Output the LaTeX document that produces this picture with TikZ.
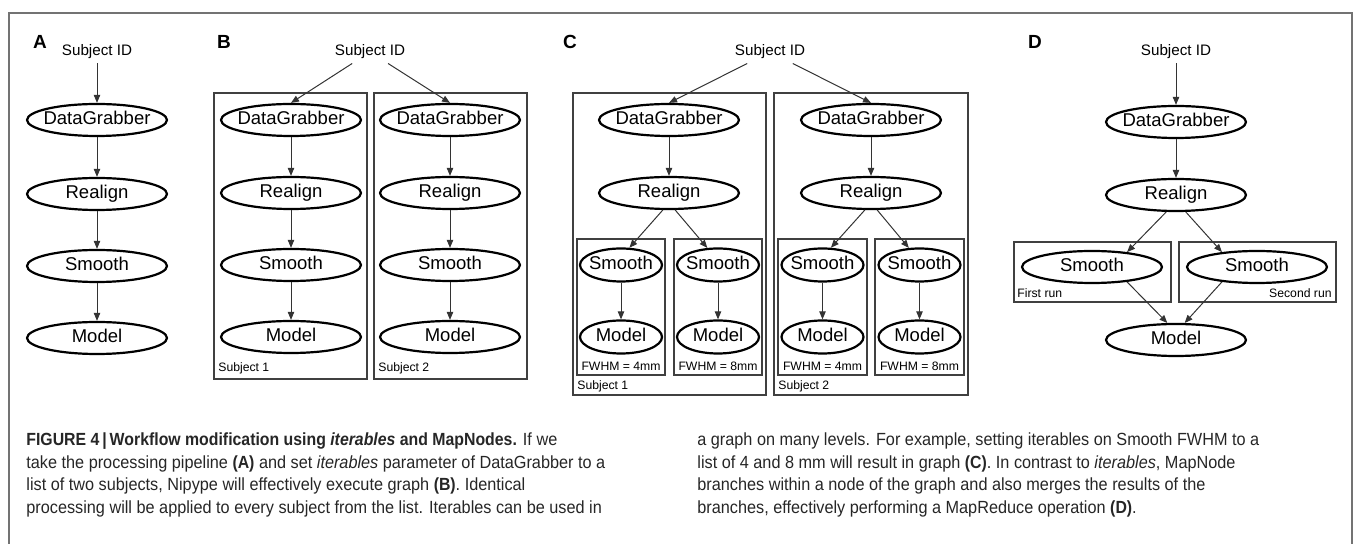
\documentclass[tikz,border=0pt]{standalone}
\usepackage{fontspec}
\setmainfont{Liberation Sans}
\newfontfamily\capfont[FakeStretch=0.924]{Liberation Sans}
\newfontfamily\capbf[FakeStretch=0.9,UprightFont={* Bold},ItalicFont={* Bold Italic}]{Liberation Sans}
\usetikzlibrary{shapes.geometric,arrows.meta}
\newcommand{\zw}[1]{\makebox[0pt]{#1}}
\newcommand{\cb}[1]{{\capbf #1}}
\begin{document}
\begin{tikzpicture}[x=0.5pt,y=-0.5pt,
  proc/.style={ellipse,draw=black,line width=1.1pt,minimum width=70pt,minimum height=16pt,
    inner sep=0pt,text height=6.8pt,text depth=2pt,font=\fontsize{9.25}{10}\selectfont},
  sproc/.style={proc,minimum width=41pt,minimum height=16.5pt},
  sid/.style={inner sep=2pt,font=\fontsize{7.6}{9}\selectfont},
  plabel/.style={inner sep=0pt,font=\fontsize{9.5}{10}\selectfont\bfseries},
  smalltext/.style={inner sep=0pt,font=\fontsize{6.1}{7}\selectfont},
  conn/.style={draw=black!80,line width=0.5pt,-{Triangle[length=4pt,width=3.2pt]}},
  grp/.style={draw=black!75,line width=0.6pt},
  captext/.style={inner sep=0pt,anchor=base west,text=black!85,font=\capfont\fontsize{8.8}{11}\selectfont}]
\useasboundingbox (0,0) rectangle (1355,544);
% outer frame
\draw[draw=black!55,line width=1pt] (9,544) -- (9,13) -- (1352,13) -- (1352,544);

% ---------------- Panel A
\node[plabel] (lA) at (40,42) {A};
\node[sid] (sidA) at (97,52) {Subject ID};
\node[proc] (dgA) at (97,120) {\zw{DataGrabber}};
\node[proc] (reA) at (97,194) {\zw{Realign}};
\node[proc] (smA) at (97,266) {\zw{Smooth}};
\node[proc] (moA) at (97,338) {\zw{Model}};
\draw[conn] (sidA) -- (dgA);
\draw[conn] (dgA) -- (reA);
\draw[conn] (reA) -- (smA);
\draw[conn] (smA) -- (moA);

% ---------------- Panel B
\node[plabel] (lB) at (224,42) {B};
\node[sid] (sidB) at (370,52) {Subject ID};
\draw[grp] (214,93) rectangle (367,379);
\draw[grp] (374,93) rectangle (527,379);
\node[smalltext,anchor=west] (sB1) at (218,368) {Subject 1};
\node[smalltext,anchor=west] (sB2) at (378,368) {Subject 2};
\foreach \i/\x in {1/291,2/450}{
  \node[proc] (dgB\i) at (\x,120) {\zw{DataGrabber}};
  \node[proc] (reB\i) at (\x,193) {\zw{Realign}};
  \node[proc] (smB\i) at (\x,265) {\zw{Smooth}};
  \node[proc] (moB\i) at (\x,337) {\zw{Model}};
  \draw[conn] (dgB\i) -- (reB\i);
  \draw[conn] (reB\i) -- (smB\i);
  \draw[conn] (smB\i) -- (moB\i);
}
\draw[conn] (sidB) -- (dgB1.north);
\draw[conn] (sidB) -- (dgB2.north);

% ---------------- Panel C
\node[plabel] (lC) at (570,42) {C};
\node[sid] (sidC) at (770,52) {Subject ID};
\draw[grp] (573,93) rectangle (766,395);
\draw[grp] (774,93) rectangle (968,395);
\node[smalltext,anchor=west] (sC1) at (577,386) {Subject 1};
\node[smalltext,anchor=west] (sC2) at (778,386) {Subject 2};
\draw[grp] (577,239) rectangle (665,375);
\draw[grp] (674,239) rectangle (762,375);
\draw[grp] (778,239) rectangle (867,375);
\draw[grp] (875,239) rectangle (964,375);
\foreach \i/\x/\xa/\xb in {1/669/621/718,2/871/822.5/919.5}{
  \node[proc] (dgC\i) at (\x,120) {\zw{DataGrabber}};
  \node[proc] (reC\i) at (\x,193) {\zw{Realign}};
  \node[sproc] (smC\i a) at (\xa,265) {\zw{Smooth}};
  \node[sproc] (moC\i a) at (\xa,337) {\zw{Model}};
  \node[sproc] (smC\i b) at (\xb,265) {\zw{Smooth}};
  \node[sproc] (moC\i b) at (\xb,337) {\zw{Model}};
  \node[smalltext] (fC\i a) at (\xa,366) {FWHM = 4mm};
  \node[smalltext] (fC\i b) at (\xb,366) {FWHM = 8mm};
  \draw[conn] (dgC\i) -- (reC\i);
  \draw[conn] (reC\i.250) -- (smC\i a.64);
  \draw[conn] (reC\i.290) -- (smC\i b.122);
  \draw[conn] (smC\i a) -- (moC\i a);
  \draw[conn] (smC\i b) -- (moC\i b);
}
\draw[conn] (sidC) -- (dgC1.north);
\draw[conn] (sidC) -- (dgC2.north);

% ---------------- Panel D
\node[plabel] (lD) at (1035,42) {D};
\node[sid] (sidD) at (1176,52) {Subject ID};
\draw[grp] (1014,242) rectangle (1171,302);
\draw[grp] (1179,242) rectangle (1336,302);
\node[smalltext,anchor=west] (sD1) at (1017,293) {First run};
\node[smalltext,anchor=east] (sD2) at (1332,293) {Second run};
\node[proc] (dgD) at (1176,122) {\zw{DataGrabber}};
\node[proc] (reD) at (1176,195) {\zw{Realign}};
\node[proc] (smD1) at (1092,267) {\zw{Smooth}};
\node[proc] (smD2) at (1257,267) {\zw{Smooth}};
\node[proc] (moD) at (1176,340) {\zw{Model}};
\draw[conn] (sidD) -- (dgD);
\draw[conn] (dgD) -- (reD);
\draw[conn] (reD.240) -- (smD1.23);
\draw[conn] (reD.300) -- (smD2.157);
\draw[conn] (smD1.337) -- (moD.117);
\draw[conn] (smD2.203) -- (moD.63);

% ---------------- Caption
\node[captext] (c1) at (26,446) {\cb{FIGURE 4\,|\,Workflow modification using \textit{iterables} and MapNodes.} If we};
\node[captext] (c2) at (26,468.5) {take the processing pipeline \cb{(A)} and set \textit{iterables} parameter of DataGrabber to a};
\node[captext] (c3) at (26,491) {list of two subjects, Nipype will effectively execute graph \cb{(B)}. Identical};
\node[captext] (c4) at (26,513.5) {processing will be applied to every subject from the list. Iterables can be used in};
\node[captext] (d1) at (697,446) {a graph on many levels. For example, setting iterables on Smooth FWHM to a};
\node[captext] (d2) at (697,468.5) {list of 4 and 8 mm will result in graph \cb{(C)}. In contrast to \textit{iterables}, MapNode};
\node[captext] (d3) at (697,491) {branches within a node of the graph and also merges the results of the};
\node[captext] (d4) at (697,513.5) {branches, effectively performing a MapReduce operation \cb{(D)}.};
\end{tikzpicture}
\end{document}
